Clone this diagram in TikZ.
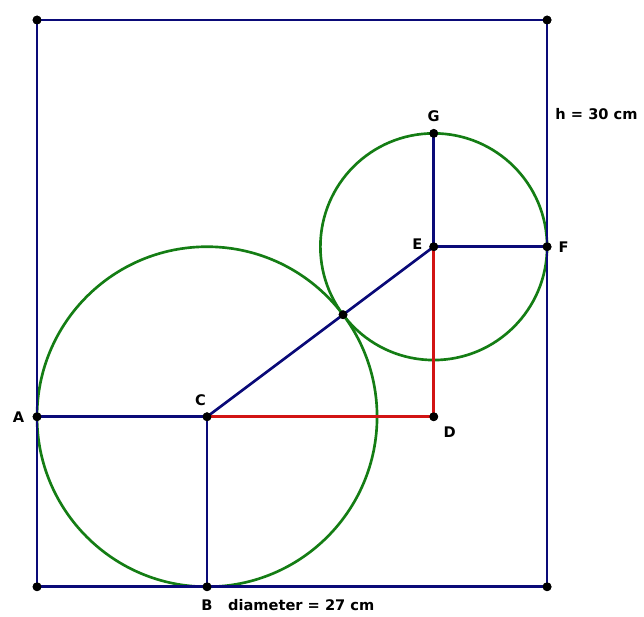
\documentclass[tikz,border=0pt]{standalone}
\usepackage{fontspec}
\setmainfont{DejaVu Sans}
\usepackage{tikz}
\usetikzlibrary{positioning}
\definecolor{navyline}{RGB}{10,10,120}
\definecolor{greenline}{RGB}{20,125,20}
\definecolor{redline}{RGB}{210,20,20}
\tikzset{dot/.style={circle, fill=black, inner sep=0pt, minimum size=6.6pt},
lbl/.style={font=\fontsize{11}{13}\selectfont\bfseries},
every label/.style={lbl}}

\begin{document}
\begin{tikzpicture}[x=0.5cm,y=0.5cm,line width=2pt]
\useasboundingbox (-1.96,-1.59) rectangle (32.13,31.06);
% points
\node[dot] (bl) at (0,0) {};
\node[dot] (br) at (27,0) {};
\node[dot] (tl) at (0,30) {};
\node[dot] (tr) at (27,30) {};
\node[dot, label={[xshift=-1pt]left:A}] (A) at (0,9) {};
\node[dot, label={[name=Blab, label distance=1pt]below:B}] (B) at (9,0) {};
\node[dot, label={[xshift=-5pt]above:C}] (C) at (9,9) {};
\node[dot, label={below right:D}] (D) at (21,9) {};
\node[dot, label={[yshift=2pt]left:E}] (E) at (21,18) {};
\node[dot, label={right:F}] (F) at (27,18) {};
\node[dot, label={above:G}] (G) at (21,24) {};
\node[dot] (T) at (16.2,14.4) {};

% circles
\draw[greenline] (C) circle (9);
\draw[greenline] (E) circle (6);

% box
\draw[navyline] (tl.center) -- (tr.center) -- (br.center) -- (bl.center) -- cycle;

% radii
\draw[navyline] (A.center) -- (C.center) -- (B.center);
\draw[navyline] (C.center) -- (T.center) -- (E.center);
\draw[navyline] (G.center) -- (E.center) -- (F.center);
\draw[redline] (C.center) -- (D.center) -- (E.center);

%labels
\node[lbl, right=3pt of Blab] (diam) {diameter = 27 cm};
\node[lbl, anchor=west, xshift=2pt] (hgt) at (27,25) {h = 30 cm};

% dots on top
\foreach \p in {bl,br,tl,tr,A,B,C,D,E,F,G,T}
     \fill (\p) circle (3.3pt);
\end{tikzpicture}
\end{document}
